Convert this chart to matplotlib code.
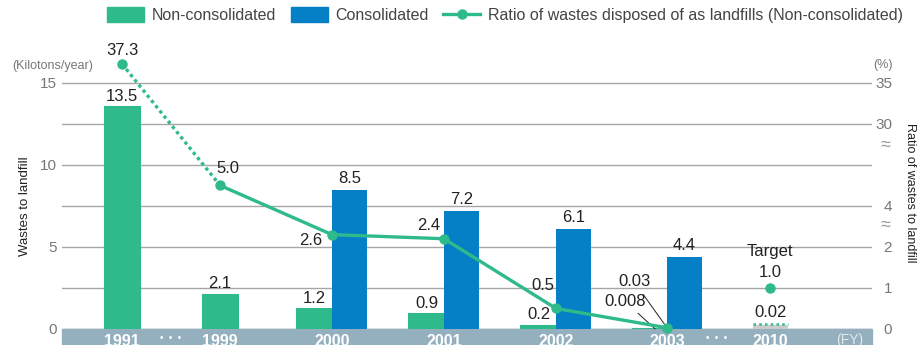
import numpy as np
import matplotlib
matplotlib.use("Agg")
import matplotlib.pyplot as plt
from matplotlib.patches import Patch, Rectangle
from matplotlib.lines import Line2D

plt.rcParams['font.family'] = ['Liberation Sans', 'DejaVu Sans']

# data
years = ['1991', '1999', '2000', '2001', '2002', '2003', '2010']
non_consolidated = [13.5, 2.1, 1.2, 0.9, 0.2, 0.008, 0.02]
cons_years = ['2000', '2001', '2002', '2003']
consolidated = [8.5, 7.2, 6.1, 4.4]
ratio_years = ['1991', '1999', '2000', '2001', '2002', '2003']
ratio = [37.3, 5.0, 2.6, 2.4, 0.5, 0.03]
target_ratio = 1.0

# layout
xpos = dict(zip(years, [0, 0.875, 1.875, 2.875, 3.875, 4.866, 5.786]))
w = 0.3125

green = '#2EBA8A'
blue = '#0580C6'
band = '#94AFBD'
grey_txt = '#777777'
dark = '#222222'


def ratio_to_y(r):
    # broken right scale: 0-2, 2-~6, 30-35
    if r <= 2:
        return r * 2.5
    if r < 30:
        return 5 + (r - 2) * 1.25
    return 12.5 + (r - 30) * 0.5


fig = plt.figure(figsize=(9.17, 3.45), dpi=100)
ax = fig.add_axes([62/917, 16/345, 810/917, 279/345])
ax.set_xlim(-0.536, -0.536 + 810/112)
ax.set_ylim(0, 17)

for s in ax.spines.values():
    s.set_visible(False)

# grid
ax.set_yticks(np.arange(0, 15.1, 2.5))
ax.set_yticklabels(['0', '', '5', '', '10', '', '15'])
ax.grid(axis='y', color='#A6A6A6', lw=1)
ax.set_axisbelow(True)
ax.tick_params(axis='y', length=0, pad=4, labelsize=11, labelcolor=grey_txt)

# bars
single = ['1991', '1999']
for yr, v in zip(years, non_consolidated):
    if yr == '2010':
        continue
    x = xpos[yr] if yr in single else xpos[yr] - w/2
    ax.bar(x, v, w, color=green, edgecolor=green, lw=1.5, zorder=2)
for yr, v in zip(cons_years, consolidated):
    ax.bar(xpos[yr] + w/2, v, w, color=blue, zorder=2)
    ax.annotate(f'{v:.1f}', (xpos[yr] + w/2, v), xytext=(0, 2.5),
                textcoords='offset points', ha='center', va='bottom',
                fontsize=12, color=dark)

# target bar 2010
tx = xpos['2010']
tv = non_consolidated[-1]
ax.bar(tx, tv, w, color='#CCCCCC', edgecolor='#CCCCCC', lw=6, zorder=2)
ax.plot([tx - w/2, tx + w/2], [tv + 0.27, tv + 0.27], color=green, lw=1.8,
        ls=(0, (1, 1.3)), zorder=2.1)

# labels on green bars
for yr, v in zip(years[:5], non_consolidated[:5]):
    x = xpos[yr] if yr in single else xpos[yr] - w/2
    ax.annotate(f'{v:.1f}', (x, v), xytext=(0, 2.5), textcoords='offset points',
                ha='center', va='bottom', fontsize=12, color=dark)
ax.annotate('0.008', (xpos['2003'] - w/2 + 0.05, non_consolidated[5]),
            xytext=(-7, 20), textcoords='offset points', ha='right', va='center',
            fontsize=12, color=dark,
            arrowprops=dict(arrowstyle='-', color=dark, lw=0.7, shrinkA=2, shrinkB=0))
ax.annotate('0.02', (tx, tv), xytext=(0, 6.5), textcoords='offset points',
            ha='center', va='bottom', fontsize=12, color=dark)

# ratio line
rx = [xpos[y] for y in ratio_years]
ry = [ratio_to_y(r) for r in ratio]
ax.plot(rx[:2], ry[:2], color=green, lw=2.4, ls=(0, (1, 1)), zorder=3, clip_on=False)
ax.plot(rx[1:], ry[1:], color=green, lw=2.4, zorder=3, solid_capstyle='round')
ax.plot(rx, ry, 'o', color=green, ms=6.5, zorder=4, clip_on=False)
ax.plot(tx, ratio_to_y(target_ratio), 'o', color=green, ms=6.5, zorder=4)

offsets = {'1991': ((0, 4), 'center', 'bottom'),
           '1999': ((6, 7), 'center', 'bottom'),
           '2000': ((-7, -4), 'right', 'center'),
           '2001': ((-3, 4), 'right', 'bottom'),
           '2002': ((-1, 11), 'right', 'bottom')}
for yr, x, y, r in zip(ratio_years, rx, ry, ratio):
    if yr in offsets:
        off, ha, va = offsets[yr]
        ax.annotate(f'{r:.1f}', (x, y), xytext=off, textcoords='offset points',
                    ha=ha, va=va, fontsize=12, color=dark, annotation_clip=False)
ax.annotate('0.03', (rx[-1], ry[-1]), xytext=(-12, 33), textcoords='offset points',
            ha='right', va='center', fontsize=12, color=dark,
            arrowprops=dict(arrowstyle='-', color=dark, lw=0.7, shrinkA=2, shrinkB=3))
ax.annotate(f'{target_ratio:.1f}', (tx, ratio_to_y(target_ratio)), xytext=(0, 6),
            textcoords='offset points', ha='center', va='bottom', fontsize=12, color=dark)
ax.annotate('Target', (tx, ratio_to_y(target_ratio)), xytext=(0, 21),
            textcoords='offset points', ha='center', va='bottom', fontsize=12, color=dark)

# x axis band
ax.add_patch(Rectangle((0, -16/279), 1, 16/279, transform=ax.transAxes,
                       color=band, clip_on=False, zorder=0.2))
ax.set_xticks([xpos[y] for y in years])
ax.set_xticklabels(years)
ax.tick_params(axis='x', length=0, pad=3.5, labelsize=11.5, labelcolor='white')
for t in ax.get_xticklabels():
    t.set_fontweight('bold')
for xd in [0.43, 5.31]:
    ax.text(xd, -9/279, '•  •  •', transform=ax.get_xaxis_transform(), ha='center',
            va='center', fontsize=7, color='white', clip_on=False)
ax.text(6.5, -11/279, '(FY)', transform=ax.get_xaxis_transform(), ha='center',
        va='center', fontsize=10, color='#E4EBEF', clip_on=False)

# right axis (broken)
ax2 = ax.twinx()
ax2.set_ylim(ax.get_ylim())
for s in ax2.spines.values():
    s.set_visible(False)
rticks = [0, 1, 2, 4, 30, 35]
ax2.set_yticks([ratio_to_y(r) for r in rticks])
ax2.set_yticklabels([str(r) for r in rticks])
ax2.tick_params(axis='y', length=0, pad=14.5, labelsize=11, labelcolor=grey_txt)
for t in ax2.get_yticklabels():
    t.set_horizontalalignment('right')
for yb in [6.28, 11.16]:
    ax2.text(1.016, yb, '≈', transform=ax2.get_yaxis_transform(), ha='center',
             va='center', fontsize=13, color='#999999')

# axis titles
fig.text(53/917, 1 - 66/345, '(Kilotons/year)', ha='center', va='center',
         fontsize=9, color=grey_txt)
fig.text(883/917, 1 - 65/345, '(%)', ha='center', va='center',
         fontsize=9, color=grey_txt)
fig.text(25/917, 1 - 206/345, 'Wastes to landfill', rotation=90, ha='center',
         va='center', fontsize=9.5, color=dark)
fig.text(910/917, 1 - 193/345, 'Ratio of wastes to landfill', rotation=270,
         ha='center', va='center', fontsize=9, color=dark)

# legend
handles = [Patch(color=green, label='Non-consolidated'),
           Patch(color=blue, label='Consolidated'),
           Line2D([], [], color=green, lw=2.4, marker='o', ms=6.5,
                  label='Ratio of wastes disposed of as landfills (Non-consolidated)')]
fig.legend(handles=handles, loc='upper center', bbox_to_anchor=(0.551, 1.02),
           ncol=3, frameon=False, fontsize=11.5, handlelength=2.3,
           handleheight=1.05, handletextpad=0.5, columnspacing=0.9,
           labelcolor='#444444')

fig.savefig('out.png', dpi=100)
